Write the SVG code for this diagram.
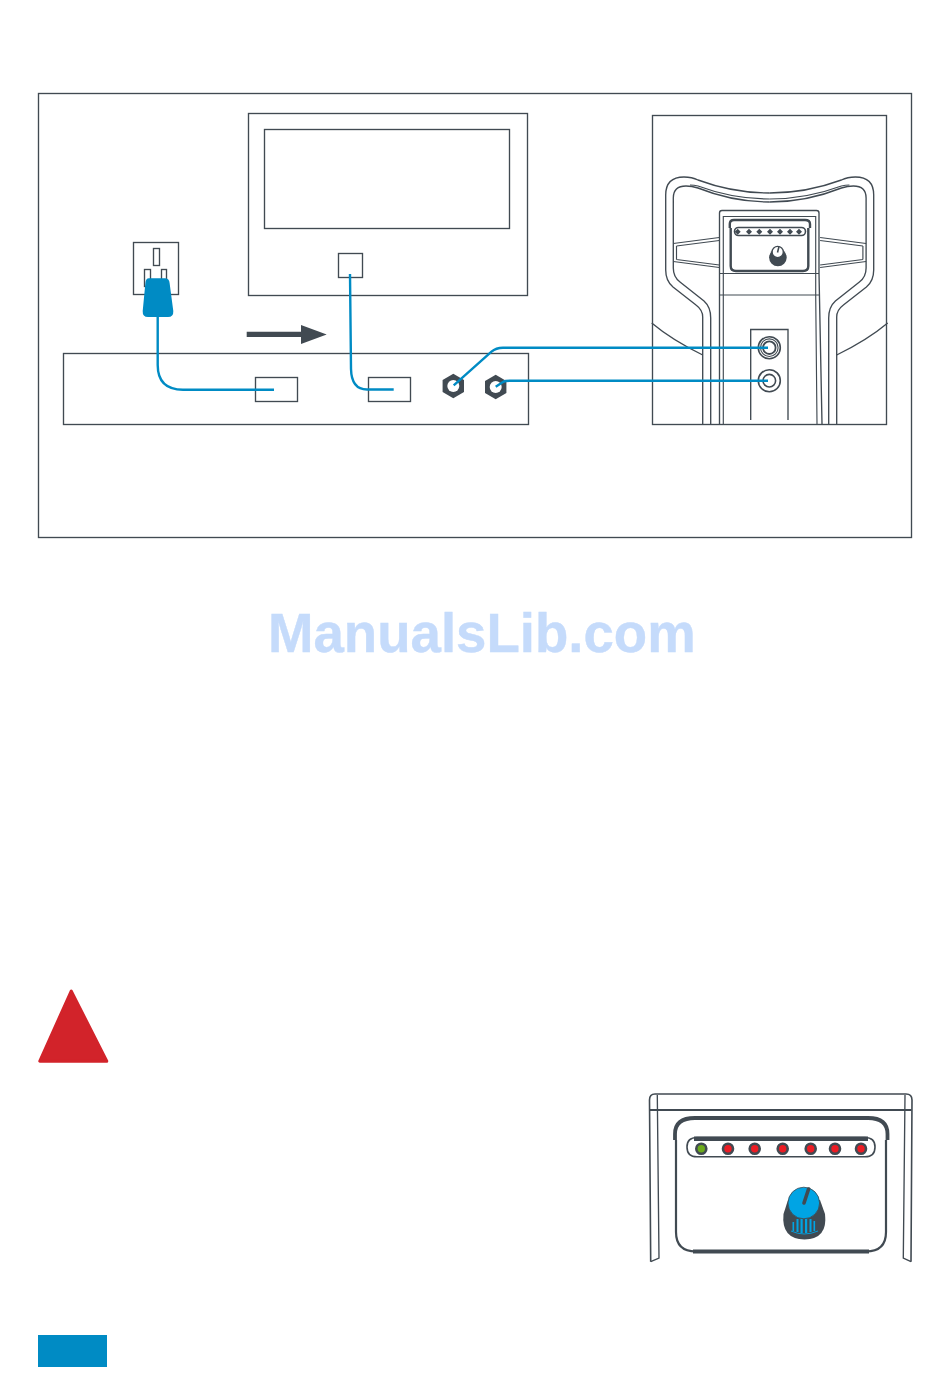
<svg xmlns="http://www.w3.org/2000/svg" width="950" height="1374" viewBox="0 0 950 1374">
<defs>
<style>
.l{fill:none;stroke:#414a52;stroke-width:1.35}
.t{fill:none;stroke:#414a52;stroke-width:1.15}
.b{fill:#fff;stroke:#414a52;stroke-width:1.35}
.c{fill:none;stroke:#008bc4;stroke-width:2.4;stroke-linecap:butt}
.d{fill:#414a52}
.wm{font-family:"Liberation Sans",Arial,sans-serif;font-weight:700;font-size:54.6px;fill:#c5dbfb;stroke:#c5dbfb;stroke-width:.4}
</style>
<g id="sideShapes">
<path class="l" d="M702.7 424V317Q702.7 310 696 305L673 287Q665.7 281 665.7 270V195Q665.7 177 684 177Q692 177 698 180Q733 193 769.7 193"/>
<path class="l" d="M710.7 424V318Q710.7 307 704 301L680 282Q673.3 277 673.3 268V198Q673.3 186 686 186Q692 186 698 188Q733 202 769.7 202"/>
<path class="t" d="M690 185Q694 185 698 186Q733 199 769.7 199"/>
<path class="l" d="M651.7 323Q672 340 702.7 355"/>
<path class="t" d="M673.3 243.5L719.3 237.5M676.5 246L719.3 240.5M673.3 261.5L719.3 267.5M676.5 259.5L719.3 265M676.5 246V259.5"/>
</g>
</defs>
<rect width="950" height="1374" fill="#fff"/>

<g id="frame"><rect class="l" x="38.5" y="93.5" width="873" height="444"/></g>

<g id="monitor">
<rect class="l" x="248.5" y="113.5" width="279" height="182"/>
<rect class="l" x="264.5" y="129.5" width="245" height="99"/>
<rect class="b" x="338.5" y="253.5" width="24" height="24"/>
</g>

<g id="outlet">
<rect class="l" x="133.5" y="242.5" width="45" height="52"/>
<rect class="l" x="153.5" y="248.5" width="6" height="17"/>
<rect class="l" x="144.5" y="269.5" width="6" height="17"/>
<rect class="l" x="161.5" y="269.5" width="5" height="17"/>
</g>

<g id="arrow">
<path class="d" d="M246.7 331.7H301V325L326.7 334.5L301 344V337H246.7Z"/>
</g>

<g id="device">
<rect class="l" x="63.5" y="353.5" width="465" height="71"/>
<rect class="l" x="255.5" y="377.5" width="42" height="24"/>
<rect class="l" x="368.5" y="377.5" width="42" height="24"/>
</g>

<g id="nut1">
<path class="d" d="M453.3 373.7L464 380V392L453.3 398.3L442.6 392V380Z"/>
<circle cx="453.3" cy="386" r="6" fill="#fff"/>
</g>
<g id="nut2">
<path class="d" d="M495.7 374.7L506.4 381V393L495.7 399.3L485 393V381Z"/>
<circle cx="495.7" cy="387" r="6" fill="#fff"/>
</g>

<g id="speaker">
<rect class="l" x="652.5" y="115.5" width="234" height="309"/>
<use href="#sideShapes"/>
<use href="#sideShapes" transform="matrix(-1 0 0 1 1539.4 0)"/>
<path class="l" d="M719.5 424L719.5 213Q719.5 210.5 722 210.5H816.5Q819 210.5 819 213V273M819 273L822 424"/>
<path class="t" d="M723.3 424V216.5H815.7V295L817 424M719.5 273.5H819M719.5 295H819"/>
<path class="l" d="M750.7 420V329.5H788V420"/>
<g id="panel-small">
<path fill="none" stroke="#414a52" stroke-width="2.4" d="M729.8 228V224Q729.8 220 734 220H805Q810 220 810 224V228M730.7 228V266Q730.7 271 736 271H803Q808.3 271 808.3 266V228"/>
<rect x="734.5" y="227.5" width="71" height="8" rx="4" fill="none" stroke="#414a52" stroke-width="1.6"/>
<g fill="#414a52">
<path d="M737.7 228.7l3 3-3 3-3-3zM749 228.7l3 3-3 3-3-3zM759.3 228.7l3 3-3 3-3-3zM770 228.7l3 3-3 3-3-3zM780 228.7l3 3-3 3-3-3zM790 228.7l3 3-3 3-3-3zM799 228.7l3 3-3 3-3-3z"/>
<circle cx="777.9" cy="257.5" r="8.8"/>
</g>
<circle cx="777.7" cy="252" r="5.6" fill="#fff" stroke="#414a52" stroke-width="1.3"/>
<path d="M777.5 252.5L779 246.6" stroke="#414a52" stroke-width="1.6"/>
</g>
<g id="jack1" fill="none" stroke="#414a52">
<circle cx="769.3" cy="347.7" r="11" fill="#fff" stroke-width="1.6"/>
<circle cx="769.3" cy="347.7" r="8.8" stroke-width="1.1"/>
<circle cx="769.3" cy="347.7" r="6.3" stroke-width="1.8"/>
</g>
<g id="jack2" fill="none" stroke="#414a52">
<circle cx="769.3" cy="380.7" r="11" fill="#fff" stroke-width="1.6"/>
<circle cx="769.3" cy="380.7" r="6.3" stroke-width="1.6"/>
</g>
</g>

<g id="connectors">
<path class="c" d="M157.7 317V365Q157.7 389.7 183 389.7H274"/>
<path class="c" d="M350 274L351 369Q351.5 389.5 367 389.5H393.7"/>
<path class="c" d="M453.7 385.3L491.5 351.7Q496 347.7 503 347.7H768"/>
<path class="c" d="M495.7 386.7L503 382Q505 380.7 510 380.7H768"/>
</g>

<g id="plug">
<path fill="#008bc4" d="M149 278.3H165Q169.3 278.3 169.6 283L173.3 311Q173.6 317 168 317H148Q142.4 317 142.7 311L145.4 283Q145.7 278.3 149 278.3Z"/>
</g>

<text class="wm" x="268" y="652">ManualsLib.com</text>

<g id="warning">
<path fill="#d2232a" stroke="#d2232a" stroke-width="3" stroke-linejoin="round" d="M71.2 991L39.8 1061.2H106.8Z"/>
</g>

<g id="control-panel">
<path fill="none" stroke="#414a52" stroke-width="1.6" d="M650.7 1261.7L649.5 1100Q649.5 1094 655 1094H906Q912 1094 912 1100L911 1261.7"/>
<path fill="none" stroke="#414a52" stroke-width="2.2" d="M650 1110H911.5"/>
<path class="l" d="M657.3 1095L659 1258L650.7 1261.7M905 1095L903.3 1258L911 1261.7"/>
<path fill="none" stroke="#414a52" stroke-width="3.8" d="M675 1140V1134Q675 1118 695 1118H868Q887.5 1118 887.5 1134V1140"/>
<path fill="none" stroke="#414a52" stroke-width="2.2" d="M676 1140V1232Q676 1251.5 696 1251.5"/>
<path fill="none" stroke="#414a52" stroke-width="2.2" d="M886 1140V1232Q886 1251.5 866 1251.5"/>
<path fill="none" stroke="#414a52" stroke-width="4" d="M693 1251.5H869"/>
<path fill="none" stroke="#414a52" stroke-width="1.6" d="M697 1137.5H865Q875 1137.5 875 1147Q875 1156.8 865 1156.8H697Q687 1156.8 687 1147Q687 1137.5 697 1137.5Z"/>
<path fill="none" stroke="#414a52" stroke-width="4.6" d="M694 1138.8H868"/>
<g stroke="#414a52" stroke-width="2.6" fill="#ec1c24">
<circle cx="701.3" cy="1148.7" r="5" fill="#6cab1b"/>
<circle cx="728" cy="1148.7" r="5"/>
<circle cx="754.7" cy="1148.7" r="5"/>
<circle cx="782.7" cy="1148.7" r="5"/>
<circle cx="810.7" cy="1148.7" r="5"/>
<circle cx="835" cy="1148.7" r="5"/>
<circle cx="861" cy="1148.7" r="5"/>
</g>
<g id="knob">
<path class="d" d="M788 1200H820L825 1214Q828 1239 804.5 1239.5Q781 1239 783.5 1214Z"/>
<g fill="#00a4e4">
<rect x="792.5" y="1222" width="1.6" height="9"/>
<rect x="796.5" y="1219" width="2" height="13"/>
<rect x="800.5" y="1219" width="2.2" height="14"/>
<rect x="805" y="1219" width="2.2" height="14"/>
<rect x="809.5" y="1219" width="2" height="13"/>
<rect x="813.5" y="1221" width="1.6" height="10"/>
</g>
<path d="M791 1231Q804 1237 818 1231" fill="none" stroke="#00a4e4" stroke-width=".9"/>
<circle cx="803.8" cy="1203" r="15.8" fill="#00a4e4" stroke="#414a52" stroke-width=".8"/>
<path d="M804 1203L808.6 1189" stroke="#414a52" stroke-width="3.6" stroke-linecap="round"/>
</g>
</g>

<g id="page-tab"><rect x="38" y="1335" width="69" height="32" fill="#008bc4"/></g>
</svg>
